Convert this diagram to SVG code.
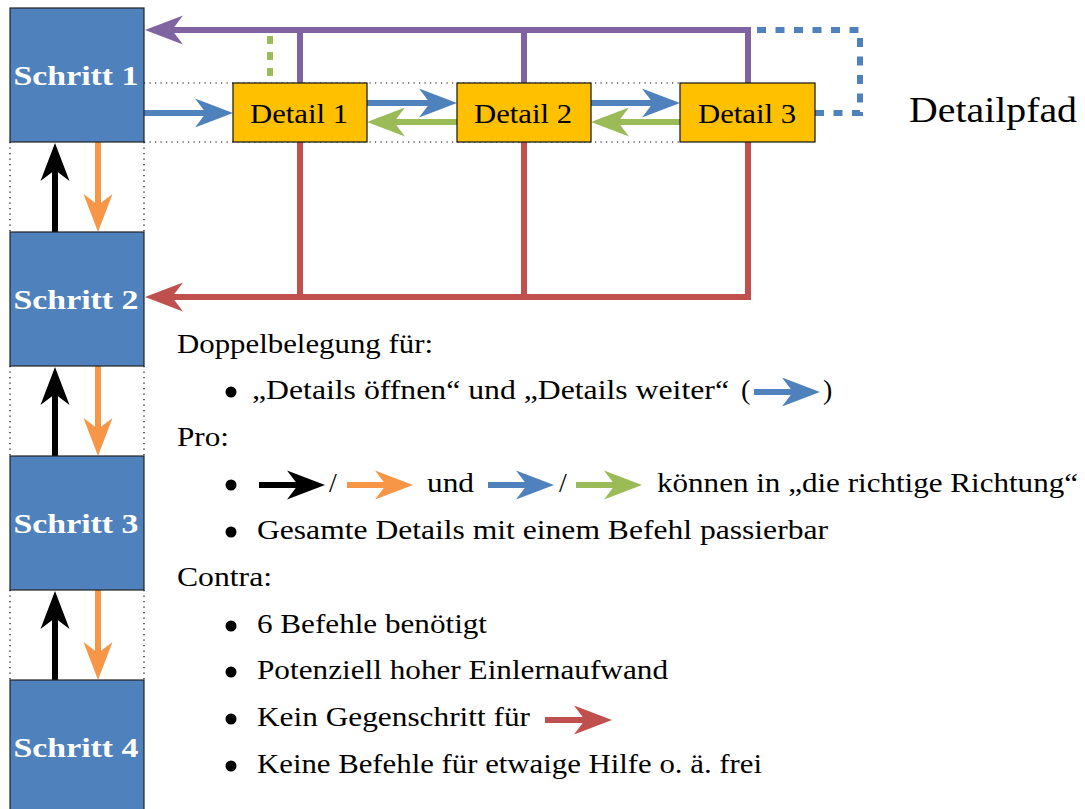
<svg xmlns="http://www.w3.org/2000/svg" width="1085" height="809" viewBox="0 0 1085 809">
<style>
.sbox{fill:#4F81BD;stroke:#222;stroke-width:1.2}
.dbox{fill:#FFC000;stroke:#111;stroke-width:1.2}
.stxt{font-family:"Liberation Serif",serif;font-weight:bold;font-size:27px;fill:#fff;text-anchor:middle}
.dtxt{font-family:"Liberation Serif",serif;font-size:27px;fill:#000;text-anchor:middle}
.t{font-family:"Liberation Serif",serif;font-size:28px;fill:#000}
.big{font-family:"Liberation Serif",serif;font-size:36px;fill:#000}
.dot{stroke:#000;stroke-width:1.2;stroke-dasharray:1.2 4.3;fill:none}
.ln{fill:none;stroke-width:6}
.purple{stroke:#8064A2}.red{stroke:#C0504D}.blue{stroke:#4F81BD}.green{stroke:#9BBB59}.orange{stroke:#F79646}.black{stroke:#000}
</style>
<defs>
<marker id="aP" viewBox="-38 -15 38 30" refX="-27" refY="0" markerWidth="38" markerHeight="30" markerUnits="userSpaceOnUse" orient="auto"><path d="M0,0 L-38,-14.5 L-27,0 L-38,14.5 Z" fill="#8064A2"/></marker>
<marker id="aR" viewBox="-38 -15 38 30" refX="-27" refY="0" markerWidth="38" markerHeight="30" markerUnits="userSpaceOnUse" orient="auto"><path d="M0,0 L-38,-14.5 L-27,0 L-38,14.5 Z" fill="#C0504D"/></marker>
<marker id="aB" viewBox="-38 -15 38 30" refX="-27" refY="0" markerWidth="38" markerHeight="30" markerUnits="userSpaceOnUse" orient="auto"><path d="M0,0 L-38,-14.5 L-27,0 L-38,14.5 Z" fill="#4F81BD"/></marker>
<marker id="aG" viewBox="-38 -15 38 30" refX="-27" refY="0" markerWidth="38" markerHeight="30" markerUnits="userSpaceOnUse" orient="auto"><path d="M0,0 L-38,-14.5 L-27,0 L-38,14.5 Z" fill="#9BBB59"/></marker>
<marker id="aO" viewBox="-38 -15 38 30" refX="-27" refY="0" markerWidth="38" markerHeight="30" markerUnits="userSpaceOnUse" orient="auto"><path d="M0,0 L-38,-14.5 L-27,0 L-38,14.5 Z" fill="#F79646"/></marker>
<marker id="aK" viewBox="-38 -15 38 30" refX="-27" refY="0" markerWidth="38" markerHeight="30" markerUnits="userSpaceOnUse" orient="auto"><path d="M0,0 L-38,-14.5 L-27,0 L-38,14.5 Z" fill="#000"/></marker>
</defs>
<rect width="1085" height="809" fill="#fff"/>

<g id="guides">
<line class="dot" x1="144" y1="83" x2="680" y2="83"/>
<line class="dot" x1="144" y1="142" x2="680" y2="142"/>
<line class="dot" x1="10" y1="142" x2="10" y2="232"/>
<line class="dot" x1="144" y1="142" x2="144" y2="232"/>
<line class="dot" x1="10" y1="366" x2="10" y2="456"/>
<line class="dot" x1="144" y1="366" x2="144" y2="456"/>
<line class="dot" x1="10" y1="590" x2="10" y2="680"/>
<line class="dot" x1="144" y1="590" x2="144" y2="680"/>
</g>

<g id="connectors">
<line class="ln purple" x1="300" y1="83" x2="300" y2="30"/>
<line class="ln purple" x1="524" y1="83" x2="524" y2="30"/>
<path class="ln purple" d="M748,83 V30 H172" marker-end="url(#aP)"/>
<line class="ln green" x1="270" y1="36" x2="270" y2="83" stroke-width="5" stroke-dasharray="8 8"/>
<path class="ln blue" d="M815,113 H860 V30 H751" stroke-width="5" stroke-dasharray="9 9.5"/>
<line class="ln red" x1="300" y1="142" x2="300" y2="297"/>
<line class="ln red" x1="524" y1="142" x2="524" y2="297"/>
<path class="ln red" d="M748,142 V297 H172" marker-end="url(#aR)"/>
<line class="ln blue" x1="144" y1="113" x2="206" y2="113" marker-end="url(#aB)"/>
<line class="ln blue" x1="367" y1="103" x2="430" y2="103" marker-end="url(#aB)"/>
<line class="ln green" x1="457" y1="122" x2="394" y2="122" marker-end="url(#aG)"/>
<line class="ln blue" x1="591" y1="103" x2="653" y2="103" marker-end="url(#aB)"/>
<line class="ln green" x1="680" y1="122" x2="618" y2="122" marker-end="url(#aG)"/>
<line class="ln black" x1="55" y1="232" x2="55" y2="170" marker-end="url(#aK)"/>
<line class="ln orange" x1="98" y1="142" x2="98" y2="205" marker-end="url(#aO)"/>
<line class="ln black" x1="55" y1="456" x2="55" y2="394" marker-end="url(#aK)"/>
<line class="ln orange" x1="98" y1="366" x2="98" y2="429" marker-end="url(#aO)"/>
<line class="ln black" x1="55" y1="680" x2="55" y2="618" marker-end="url(#aK)"/>
<line class="ln orange" x1="98" y1="590" x2="98" y2="653" marker-end="url(#aO)"/>
</g>

<g id="schritt1"><rect class="sbox" x="10" y="8" width="134" height="134"/><text class="stxt" x="76" y="85" textLength="125" lengthAdjust="spacingAndGlyphs">Schritt 1</text></g>
<g id="schritt2"><rect class="sbox" x="10" y="232" width="134" height="134"/><text class="stxt" x="76" y="309" textLength="125" lengthAdjust="spacingAndGlyphs">Schritt 2</text></g>
<g id="schritt3"><rect class="sbox" x="10" y="456" width="134" height="134"/><text class="stxt" x="76" y="533" textLength="125" lengthAdjust="spacingAndGlyphs">Schritt 3</text></g>
<g id="schritt4"><rect class="sbox" x="10" y="680" width="134" height="134"/><text class="stxt" x="76" y="757" textLength="125" lengthAdjust="spacingAndGlyphs">Schritt 4</text></g>

<g id="detail1"><rect class="dbox" x="233" y="83" width="134" height="59"/><text class="dtxt" x="299" y="123" textLength="98" lengthAdjust="spacingAndGlyphs">Detail 1</text></g>
<g id="detail2"><rect class="dbox" x="457" y="83" width="134" height="59"/><text class="dtxt" x="523" y="123" textLength="98" lengthAdjust="spacingAndGlyphs">Detail 2</text></g>
<g id="detail3"><rect class="dbox" x="680" y="83" width="135" height="59"/><text class="dtxt" x="747" y="123" textLength="98" lengthAdjust="spacingAndGlyphs">Detail 3</text></g>

<g id="detailpfad"><text class="big" x="909" y="122" textLength="168" lengthAdjust="spacingAndGlyphs">Detailpfad</text></g>

<g id="notes">
<text class="t" x="177" y="353" textLength="256" lengthAdjust="spacingAndGlyphs">Doppelbelegung für:</text>
<circle cx="231" cy="392" r="5.5"/>
<text class="t" x="252" y="399" textLength="477" lengthAdjust="spacingAndGlyphs">„Details öffnen“ und „Details weiter“</text>
<text class="t" x="741" y="399">(</text>
<line class="ln blue" x1="754" y1="392" x2="793" y2="392" marker-end="url(#aB)"/>
<text class="t" x="823" y="399">)</text>
<text class="t" x="177" y="446" textLength="52" lengthAdjust="spacingAndGlyphs">Pro:</text>
<circle cx="231" cy="485" r="5.5"/>
<line class="ln black" x1="259" y1="485" x2="298" y2="485" marker-end="url(#aK)"/>
<text class="t" x="329" y="492">/</text>
<line class="ln orange" x1="347" y1="485" x2="386" y2="485" marker-end="url(#aO)"/>
<text class="t" x="427" y="492" textLength="47" lengthAdjust="spacingAndGlyphs">und</text>
<line class="ln blue" x1="488" y1="485" x2="527" y2="485" marker-end="url(#aB)"/>
<text class="t" x="559" y="492">/</text>
<line class="ln green" x1="576" y1="485" x2="615" y2="485" marker-end="url(#aG)"/>
<text class="t" x="657" y="492" textLength="421" lengthAdjust="spacingAndGlyphs">können in „die richtige Richtung“</text>
<circle cx="231" cy="532" r="5.5"/>
<text class="t" x="257" y="539" textLength="571" lengthAdjust="spacingAndGlyphs">Gesamte Details mit einem Befehl passierbar</text>
<text class="t" x="177" y="586" textLength="95" lengthAdjust="spacingAndGlyphs">Contra:</text>
<circle cx="231" cy="626" r="5.5"/>
<text class="t" x="257" y="633" textLength="230" lengthAdjust="spacingAndGlyphs">6 Befehle benötigt</text>
<circle cx="231" cy="672" r="5.5"/>
<text class="t" x="257" y="679" textLength="411" lengthAdjust="spacingAndGlyphs">Potenziell hoher Einlernaufwand</text>
<circle cx="231" cy="719" r="5.5"/>
<text class="t" x="257" y="726" textLength="273" lengthAdjust="spacingAndGlyphs">Kein Gegenschritt für</text>
<line class="ln red" x1="545" y1="720" x2="585" y2="720" marker-end="url(#aR)"/>
<circle cx="231" cy="766" r="5.5"/>
<text class="t" x="257" y="773" textLength="505" lengthAdjust="spacingAndGlyphs">Keine Befehle für etwaige Hilfe o. ä. frei</text>
</g>
</svg>
